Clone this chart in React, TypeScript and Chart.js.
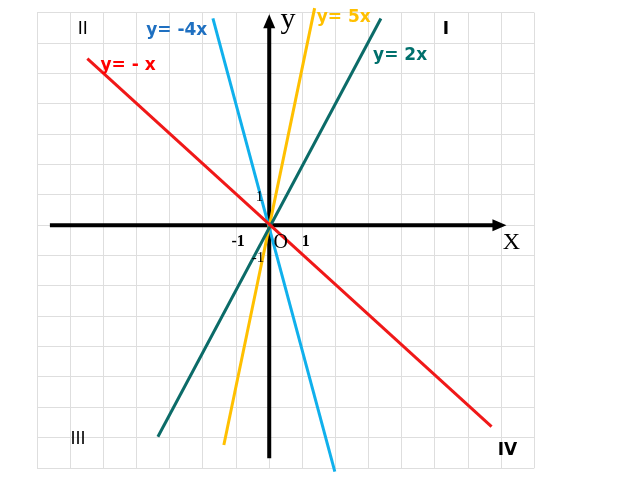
import { useEffect, useRef } from 'react';
import Chart from 'chart.js/auto';

// endpoints of each drawn line (grid units)
const negXLine = [{ x: -5.49, y: 5.49 }, { x: 6.71, y: -6.64 }];
const twoXLine = [{ x: -3.36, y: -6.97 }, { x: 3.37, y: 6.81 }];
const fiveXLine = [{ x: -1.37, y: -7.24 }, { x: 1.37, y: 7.15 }];
const negFourXLine = [{ x: -1.7, y: 6.81 }, { x: 1.98, y: -8.12 }];

const xAxisLine = [{ x: -6.62, y: 0 }, { x: 6.78, y: 0 }];
const yAxisLine = [{ x: 0, y: -7.68 }, { x: 0, y: 6.55 }];
const xArrowTip = 7.16;
const yArrowTip = 6.95;

const xRange = [-7, 8];
const yRange = [-8, 7];

type Label = { text: string; x: number; y: number; font: string; color: string };

const labels: Label[] = [
  { text: 'y= -4x', x: -2.79, y: 6.42, font: 'bold 17px "DejaVu Sans"', color: '#1f70c1' },
  { text: 'y= 5x', x: 2.25, y: 6.85, font: 'bold 17px "DejaVu Sans"', color: '#ffc000' },
  { text: 'y= 2x', x: 3.95, y: 5.59, font: 'bold 17px "DejaVu Sans"', color: '#00706c' },
  { text: 'y= - x', x: -4.26, y: 5.27, font: 'bold 17px "DejaVu Sans"', color: '#ff0000' },
  { text: 'II', x: -5.63, y: 6.46, font: '17px "DejaVu Sans"', color: '#000' },
  { text: 'I', x: 5.33, y: 6.46, font: 'bold 17px "DejaVu Sans"', color: '#000' },
  { text: 'III', x: -5.77, y: -7.06, font: '17px "DejaVu Sans"', color: '#000' },
  { text: 'IV', x: 7.19, y: -7.44, font: 'bold 17px "DejaVu Sans"', color: '#000' },
  { text: 'y', x: 0.57, y: 6.75, font: '30px "Liberation Serif"', color: '#000' },
  { text: 'X', x: 7.31, y: -0.57, font: '24px "Liberation Serif"', color: '#000' },
  { text: 'O', x: 0.35, y: -0.57, font: '20px "Liberation Serif"', color: '#000' },
  { text: '1', x: 1.1, y: -0.54, font: 'bold 16px "Liberation Serif"', color: '#000' },
  { text: '-1', x: -0.94, y: -0.56, font: 'bold 16px "Liberation Serif"', color: '#000' },
  { text: '1', x: -0.29, y: 0.92, font: '15px "Liberation Serif"', color: '#000' },
  { text: '-1', x: -0.34, y: -1.1, font: '15px "Liberation Serif"', color: '#000' },
];

const decorPlugin = {
  id: 'decor',
  afterDatasetsDraw(chart: Chart) {
    const { ctx } = chart;
    const sx = chart.scales.x;
    const sy = chart.scales.y;
    const ox = sx.getPixelForValue(0);
    const oy = sy.getPixelForValue(0);
    ctx.save();
    ctx.fillStyle = '#000';
    // x arrow
    const xt = sx.getPixelForValue(xArrowTip);
    ctx.beginPath();
    ctx.moveTo(xt, oy);
    ctx.lineTo(xt - 14, oy - 6);
    ctx.lineTo(xt - 14, oy + 6);
    ctx.closePath();
    ctx.fill();
    // y arrow
    const yt = sy.getPixelForValue(yArrowTip);
    ctx.beginPath();
    ctx.moveTo(ox, yt);
    ctx.lineTo(ox - 6, yt + 14);
    ctx.lineTo(ox + 6, yt + 14);
    ctx.closePath();
    ctx.fill();

    ctx.textAlign = 'center';
    ctx.textBaseline = 'middle';
    labels.forEach(l => {
      ctx.font = l.font;
      ctx.fillStyle = l.color;
      ctx.fillText(l.text, sx.getPixelForValue(l.x), sy.getPixelForValue(l.y));
    });
    ctx.restore();
  },
};

function line(data: { x: number; y: number }[], color: string, width: number, order: number) {
  return {
    data,
    showLine: true,
    borderColor: color,
    borderWidth: width,
    pointRadius: 0,
    clip: false as const,
    order,
  };
}

export default function App() {
  const canvasRef = useRef<HTMLCanvasElement | null>(null);

  useEffect(() => {
    if (!canvasRef.current) return;
    const chart = new Chart(canvasRef.current, {
      type: 'scatter',
      data: {
        datasets: [
          line(negXLine, '#f01818', 3, 1),
          line(twoXLine, '#0b6b68', 3, 1),
          line(fiveXLine, '#ffc000', 3, 1),
          line(negFourXLine, '#10b0ec', 3, 1),
          line(xAxisLine, '#000', 4, 2),
          line(yAxisLine, '#000', 4, 2),
        ],
      },
      options: {
        responsive: false,
        animation: false,
        layout: { padding: { left: 37.3, right: 105.7, top: 12.7, bottom: 12 } },
        plugins: { legend: { display: false }, tooltip: { enabled: false } },
        scales: {
          x: {
            type: 'linear',
            min: xRange[0],
            max: xRange[1],
            ticks: { display: false, stepSize: 1, autoSkip: false },
            grid: { color: '#dedede', lineWidth: 1, drawTicks: false },
            border: { display: false },
          },
          y: {
            type: 'linear',
            min: yRange[0],
            max: yRange[1],
            ticks: { display: false, stepSize: 1, autoSkip: false },
            grid: { color: '#dedede', lineWidth: 1, drawTicks: false },
            border: { display: false },
          },
        },
      },
      plugins: [decorPlugin],
    });
    return () => chart.destroy();
  }, []);

  return (
    <div style={{ position: 'fixed', left: 0, top: 0, width: 640, height: 480, background: '#fff' }}>
      <canvas ref={canvasRef} width={640} height={480} />
    </div>
  );
}
